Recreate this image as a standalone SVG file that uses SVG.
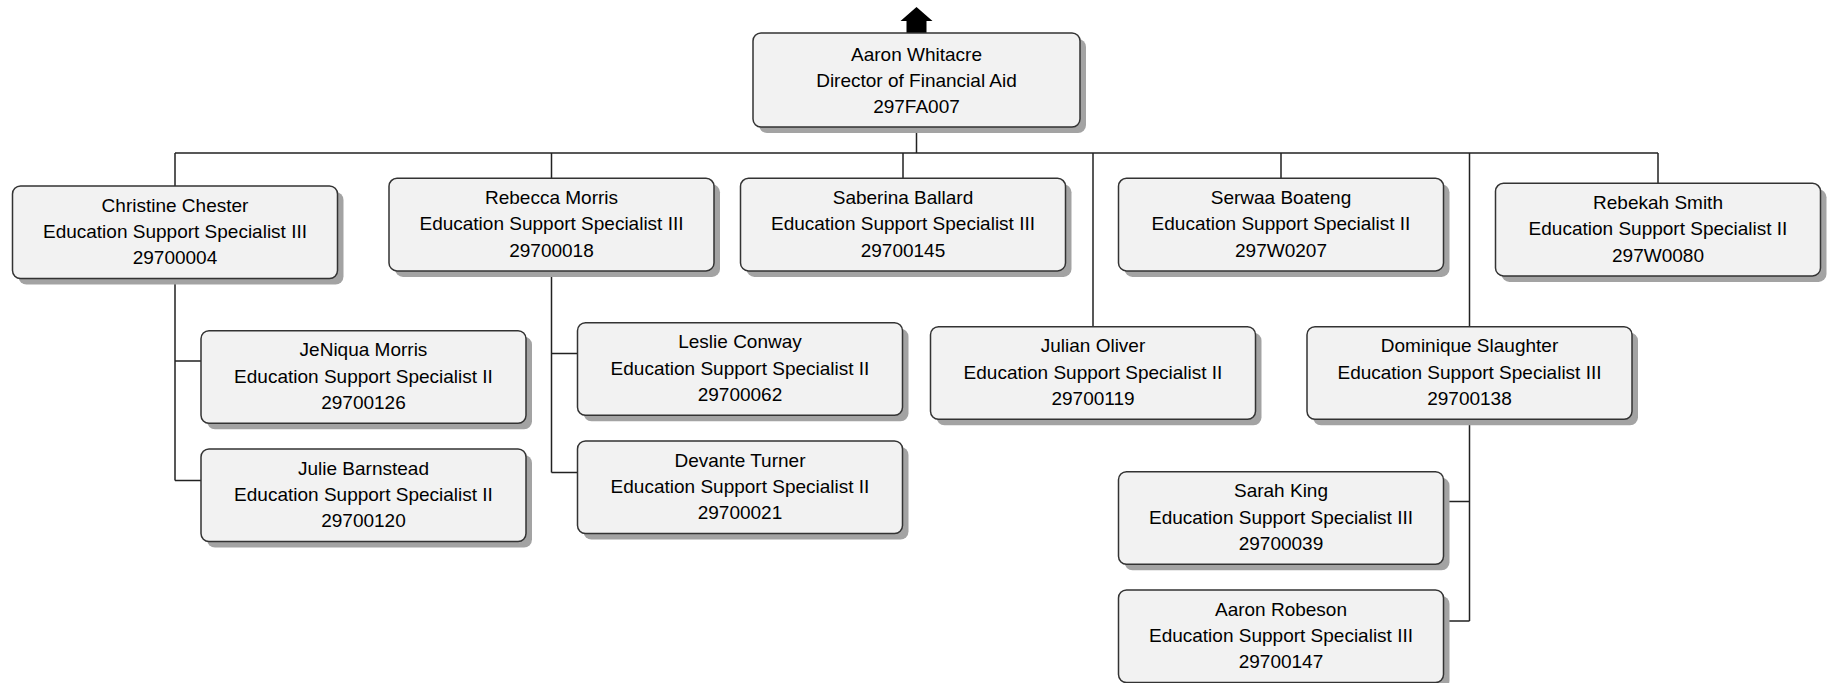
<svg xmlns="http://www.w3.org/2000/svg" width="1831" height="683" viewBox="0 0 1831 683">
<style>
.sh{fill:#a3a3a3}
.bx{fill:#f2f2f2;stroke:#333;stroke-width:1.5}
.t{font-family:"Liberation Sans",Arial,sans-serif;font-size:19px;fill:#000;text-anchor:middle}
.c{fill:none;stroke:#222;stroke-width:1.5}
</style>
<defs>
<rect id="sh" class="sh" width="325" height="92.6" rx="8"/>
<rect id="bx" class="bx" width="325" height="92.6" rx="8"/>
</defs>
<rect x="0" y="0" width="1831" height="683" fill="#fff"/>
<g id="connectors">
<polygon points="916.5,7 932.5,21 926.5,21 926.5,33 906.5,33 906.5,21 900.5,21" fill="#000"/>
<path class="c" d="M916.5,127 V153 M175,153 H1658 M175,153 V186 M551.5,153 V178 M903,153 V178 M1093,153 V327 M1281,153 V178 M1469.5,153 V327 M1658,153 V183"/>
<path class="c" d="M175,278 V480.5 M175,361 H201 M175,480.5 H201"/>
<path class="c" d="M551.5,271 V472.5 M551.5,353.5 H577.5 M551.5,472.5 H577.5"/>
<path class="c" d="M1469.5,419 V621 M1469.5,501.5 H1443.5 M1469.5,621 H1443.5"/>
</g>
<g id="n-aaron-whitacre">
<rect class="sh" x="759" y="39" width="327" height="94" rx="8"/>
<rect class="bx" x="753" y="33" width="327" height="94" rx="8"/>
<text class="t" x="916.5" y="60.5">Aaron Whitacre</text>
<text class="t" x="916.5" y="86.5">Director of Financial Aid</text>
<text class="t" x="916.5" y="112.5">297FA007</text>
</g>
<g id="n-christine-chester" transform="translate(12.5,186)">
<use href="#sh" x="6" y="6"/><use href="#bx"/>
<text class="t" x="162.5" y="25.8">Christine Chester</text>
<text class="t" x="162.5" y="52.2">Education Support Specialist III</text>
<text class="t" x="162.5" y="78.4">29700004</text>
</g>
<g id="n-rebecca-morris" transform="translate(389,178.3)">
<use href="#sh" x="6" y="6"/><use href="#bx"/>
<text class="t" x="162.5" y="25.8">Rebecca Morris</text>
<text class="t" x="162.5" y="52.2">Education Support Specialist III</text>
<text class="t" x="162.5" y="78.4">29700018</text>
</g>
<g id="n-saberina-ballard" transform="translate(740.5,178.3)">
<use href="#sh" x="6" y="6"/><use href="#bx"/>
<text class="t" x="162.5" y="25.8">Saberina Ballard</text>
<text class="t" x="162.5" y="52.2">Education Support Specialist III</text>
<text class="t" x="162.5" y="78.4">29700145</text>
</g>
<g id="n-serwaa-boateng" transform="translate(1118.5,178.3)">
<use href="#sh" x="6" y="6"/><use href="#bx"/>
<text class="t" x="162.5" y="25.8">Serwaa Boateng</text>
<text class="t" x="162.5" y="52.2">Education Support Specialist II</text>
<text class="t" x="162.5" y="78.4">297W0207</text>
</g>
<g id="n-rebekah-smith" transform="translate(1495.5,183.3)">
<use href="#sh" x="6" y="6"/><use href="#bx"/>
<text class="t" x="162.5" y="25.8">Rebekah Smith</text>
<text class="t" x="162.5" y="52.2">Education Support Specialist II</text>
<text class="t" x="162.5" y="78.4">297W0080</text>
</g>
<g id="n-jeniqua-morris" transform="translate(201,330.7)">
<use href="#sh" x="6" y="6"/><use href="#bx"/>
<text class="t" x="162.5" y="25.8">JeNiqua Morris</text>
<text class="t" x="162.5" y="52.2">Education Support Specialist II</text>
<text class="t" x="162.5" y="78.4">29700126</text>
</g>
<g id="n-julie-barnstead" transform="translate(201,449)">
<use href="#sh" x="6" y="6"/><use href="#bx"/>
<text class="t" x="162.5" y="25.8">Julie Barnstead</text>
<text class="t" x="162.5" y="52.2">Education Support Specialist II</text>
<text class="t" x="162.5" y="78.4">29700120</text>
</g>
<g id="n-leslie-conway" transform="translate(577.5,322.7)">
<use href="#sh" x="6" y="6"/><use href="#bx"/>
<text class="t" x="162.5" y="25.8">Leslie Conway</text>
<text class="t" x="162.5" y="52.2">Education Support Specialist II</text>
<text class="t" x="162.5" y="78.4">29700062</text>
</g>
<g id="n-devante-turner" transform="translate(577.5,441)">
<use href="#sh" x="6" y="6"/><use href="#bx"/>
<text class="t" x="162.5" y="25.8">Devante Turner</text>
<text class="t" x="162.5" y="52.2">Education Support Specialist II</text>
<text class="t" x="162.5" y="78.4">29700021</text>
</g>
<g id="n-julian-oliver" transform="translate(930.5,326.7)">
<use href="#sh" x="6" y="6"/><use href="#bx"/>
<text class="t" x="162.5" y="25.8">Julian Oliver</text>
<text class="t" x="162.5" y="52.2">Education Support Specialist II</text>
<text class="t" x="162.5" y="78.4">29700119</text>
</g>
<g id="n-dominique-slaughter" transform="translate(1307,326.7)">
<use href="#sh" x="6" y="6"/><use href="#bx"/>
<text class="t" x="162.5" y="25.8">Dominique Slaughter</text>
<text class="t" x="162.5" y="52.2">Education Support Specialist III</text>
<text class="t" x="162.5" y="78.4">29700138</text>
</g>
<g id="n-sarah-king" transform="translate(1118.5,471.7)">
<use href="#sh" x="6" y="6"/><use href="#bx"/>
<text class="t" x="162.5" y="25.8">Sarah King</text>
<text class="t" x="162.5" y="52.2">Education Support Specialist III</text>
<text class="t" x="162.5" y="78.4">29700039</text>
</g>
<g id="n-aaron-robeson" transform="translate(1118.5,590)">
<use href="#sh" x="6" y="6"/><use href="#bx"/>
<text class="t" x="162.5" y="25.8">Aaron Robeson</text>
<text class="t" x="162.5" y="52.2">Education Support Specialist III</text>
<text class="t" x="162.5" y="78.4">29700147</text>
</g>
</svg>
